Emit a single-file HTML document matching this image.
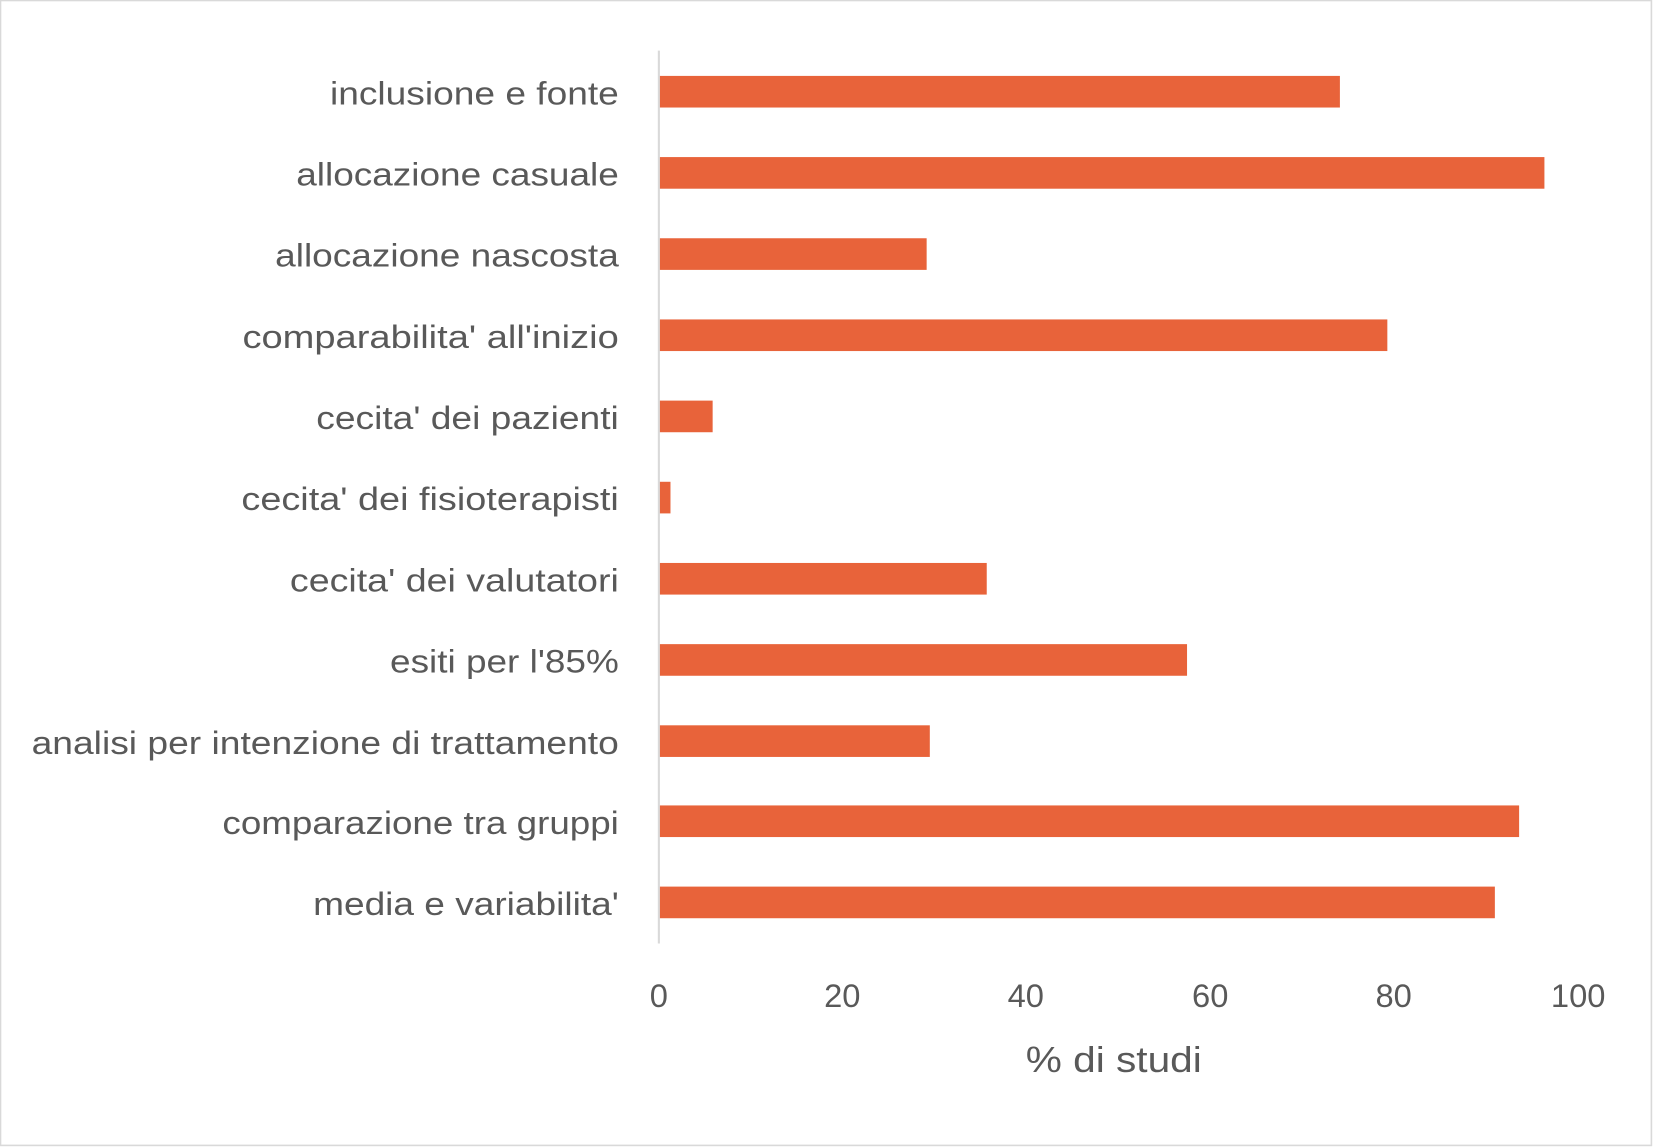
<!DOCTYPE html>
<html><head><meta charset="utf-8"><style>
html,body{margin:0;padding:0;background:#fff;}
svg{display:block;}
text{font-family:"Liberation Sans",sans-serif;fill:#595959;}
</style></head><body>
<svg width="1653" height="1147" viewBox="0 0 1568 1088" preserveAspectRatio="none" xmlns="http://www.w3.org/2000/svg">
<rect x="0.5" y="0.5" width="1566" height="1086" fill="#fff" stroke="#d9d9d9" stroke-width="1.5"/>
<g fill="#E8633A">
<rect x="625" y="72" width="646" height="30"/>
<rect x="625" y="149" width="840" height="30"/>
<rect x="625" y="226" width="254" height="30"/>
<rect x="625" y="303" width="691" height="30"/>
<rect x="625" y="380" width="51" height="30"/>
<rect x="625" y="457" width="11" height="30"/>
<rect x="625" y="534" width="311" height="30"/>
<rect x="625" y="611" width="501" height="30"/>
<rect x="625" y="688" width="257" height="30"/>
<rect x="625" y="764" width="816" height="30"/>
<rect x="625" y="841" width="793" height="30"/>
</g>
<line x1="625" y1="48" x2="625" y2="895" stroke="#d9d9d9" stroke-width="2"/>
<g font-size="31" lengthAdjust="spacingAndGlyphs">
<text x="313" y="99" textLength="274" lengthAdjust="spacingAndGlyphs">inclusione e fonte</text>
<text x="281" y="176" textLength="306" lengthAdjust="spacingAndGlyphs">allocazione casuale</text>
<text x="261" y="253" textLength="326" lengthAdjust="spacingAndGlyphs">allocazione nascosta</text>
<text x="230" y="330" textLength="357" lengthAdjust="spacingAndGlyphs">comparabilita' all'inizio</text>
<text x="300" y="407" textLength="287" lengthAdjust="spacingAndGlyphs">cecita' dei pazienti</text>
<text x="229" y="484" textLength="358" lengthAdjust="spacingAndGlyphs">cecita' dei fisioterapisti</text>
<text x="275" y="561" textLength="312" lengthAdjust="spacingAndGlyphs">cecita' dei valutatori</text>
<text x="370" y="638" textLength="217" lengthAdjust="spacingAndGlyphs">esiti per l'85%</text>
<text x="30" y="715" textLength="557" lengthAdjust="spacingAndGlyphs">analisi per intenzione di trattamento</text>
<text x="211" y="791" textLength="376" lengthAdjust="spacingAndGlyphs">comparazione tra gruppi</text>
<text x="297" y="868" textLength="290" lengthAdjust="spacingAndGlyphs">media e variabilita'</text>
</g>
<g font-size="31" text-anchor="middle">
<text x="625" y="955">0</text>
<text x="799" y="955">20</text>
<text x="973" y="955">40</text>
<text x="1148" y="955">60</text>
<text x="1322" y="955">80</text>
<text x="1497" y="955">100</text>
</g>
<text x="973" y="1017" font-size="34" textLength="167" lengthAdjust="spacingAndGlyphs">% di studi</text>
</svg>
</body></html>
